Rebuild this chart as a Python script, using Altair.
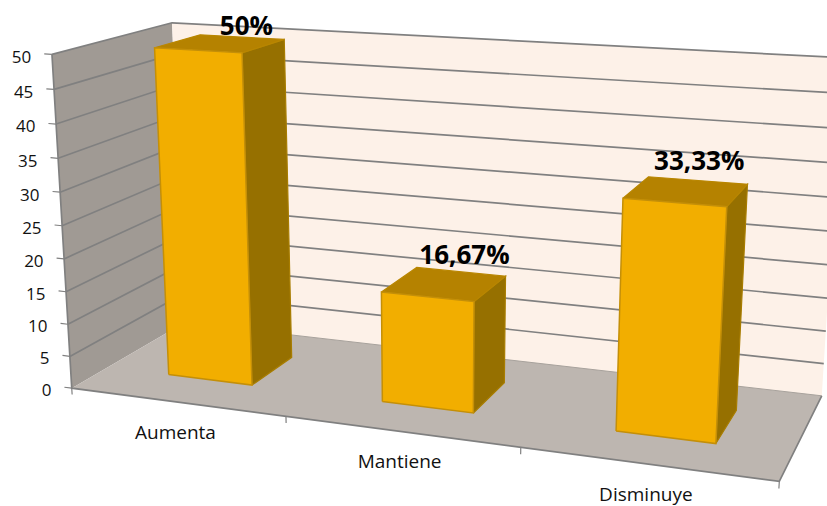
import altair as alt
import numpy as np
import pandas as pd

# Chart content
categories = ["Aumenta", "Mantiene", "Disminuye"]
values = [50, 16.67, 33.33]
value_ticks = [0, 5, 10, 15, 20, 25, 30, 35, 40, 45, 50]

W, H = 827, 506
VALUE_MAX = 50

# Perspective camera: unit box (category, value, depth) on the canvas
BOX = [(0, 0, 0), (1, 0, 0), (1, 0, 1), (0, 0, 1), (0, 1, 0), (0, 1, 1), (1, 1, 1)]
CANVAS = [(72, 388), (779, 482), (822, 395), (184, 323), (52, 54), (172, 23), (843, 58)]


def camera():
    rows, rhs = [], []
    for (x, y, z), (u, v) in zip(BOX, CANVAS):
        rows.append([x, y, z, 1, 0, 0, 0, 0, -u * x, -u * y, -u * z])
        rhs.append(u)
        rows.append([0, 0, 0, 0, x, y, z, 1, -v * x, -v * y, -v * z])
        rhs.append(v)
    p = np.linalg.lstsq(np.array(rows, float), np.array(rhs, float), rcond=None)[0]
    return np.append(p, 1).reshape(3, 4)


P = camera()


def project(x, y, z):
    h = P @ np.array([x, y, z, 1.0])
    return float(h[0] / h[2]), float(h[1] / h[2])


x_scale = alt.Scale(domain=[0, W], range=[0, W], nice=False, zero=False)
y_scale = alt.Scale(domain=[0, H], range=[0, H], nice=False, zero=False)


def path_layer(points, fill=None, stroke=None, width=1.0, closed=False):
    pts = [project(*p) for p in points]
    if closed:
        pts.append(pts[0])
    df = pd.DataFrame({"px": [p[0] for p in pts], "py": [p[1] for p in pts], "i": range(len(pts))})
    style = {"strokeWidth": width, "clip": True}
    style["stroke"] = stroke if stroke else "transparent"
    if fill:
        style["fill"] = fill
    return alt.Chart(df).mark_line(**style).encode(
        x=alt.X("px:Q", scale=x_scale, axis=None),
        y=alt.Y("py:Q", scale=y_scale, axis=None),
        order="i:Q",
    )


def text_layer(rows, **style):
    df = pd.DataFrame(rows, columns=["px", "py", "label"])
    return alt.Chart(df).mark_text(**style).encode(
        x=alt.X("px:Q", scale=x_scale, axis=None),
        y=alt.Y("py:Q", scale=y_scale, axis=None),
        text="label:N",
    )


GRID = "#808080"
layers = []

# Walls and floor
layers.append(path_layer([(0, 0, 0), (0, 0, 1), (0, 1, 1), (0, 1, 0)], fill="#a09a94", closed=True))
layers.append(path_layer([(0, 0, 1), (1, 0, 1), (1, 1, 1), (0, 1, 1)], fill="#fdf1e8", closed=True))
layers.append(path_layer([(0, 0, 0), (1, 0, 0), (1, 0, 1), (0, 0, 1)], fill="#bdb6b0", closed=True))

# Gridlines running along the side wall and the back wall
for t in value_ticks[1:]:
    y = t / VALUE_MAX
    layers.append(path_layer([(0, y, 0), (0, y, 1), (1, y, 1)], stroke=GRID, width=1.7))
layers.append(path_layer([(0, 0, 1), (1, 0, 1)], stroke="#a8a29c", width=1))

# Axis lines and tick marks
layers.append(path_layer([(0, 1, 0), (0, 0, 0), (1, 0, 0), (1, 0, 1)], stroke=GRID, width=1.7))
for t in value_ticks:
    y = t / VALUE_MAX
    layers.append(path_layer([(-0.012, y, 0), (0, y, 0)], stroke=GRID, width=1.2))
for k in range(len(categories) + 1):
    x = k / len(categories)
    layers.append(path_layer([(x, 0, 0), (x, -0.02, 0)], stroke=GRID, width=1.2))

# Bars, each one a box standing on the floor
HALF_WIDTH, Z0, Z1 = 0.0667, 0.3, 0.7
for k, v in enumerate(values):
    xc = (k + 0.5) / len(categories)
    x0, x1 = xc - HALF_WIDTH, xc + HALF_WIDTH
    y = v / VALUE_MAX
    layers.append(path_layer([(x1, 0, Z0), (x1, 0, Z1), (x1, y, Z1), (x1, y, Z0)],
                             fill="#967000", stroke="#a87d00", width=1.2, closed=True))
    layers.append(path_layer([(x0, y, Z0), (x1, y, Z0), (x1, y, Z1), (x0, y, Z1)],
                             fill="#b58200", stroke="#b98600", width=1.2, closed=True))
    layers.append(path_layer([(x0, 0, Z0), (x1, 0, Z0), (x1, y, Z0), (x0, y, Z0)],
                             fill="#f2ae00", stroke="#c48f08", width=1.5, closed=True))

# Value axis labels
tick_rows = []
for t in value_ticks:
    px, py = project(-0.012, t / VALUE_MAX, 0)
    tick_rows.append((px - 13, py + 4, str(t)))
layers.append(text_layer(tick_rows, align="right", baseline="middle", font="Open Sans",
                         fontSize=17, color="#111111"))

# Category labels under the floor
cat_rows = []
for k, name in enumerate(categories):
    px, py = project((k + 0.5) / len(categories), 0, 0)
    cat_rows.append((px - 1, py + 31, name))
layers.append(text_layer(cat_rows, align="center", baseline="middle", font="Open Sans",
                         fontSize=19, color="#111111"))

# Percentage labels above the bars
LABEL_SHIFT = [(26, -17), (20, -28), (13, -29)]
label_rows = []
for k, v in enumerate(values):
    xc = (k + 0.5) / len(categories)
    px, py = project(xc, v / VALUE_MAX, 0.5)
    dx, dy = LABEL_SHIFT[k]
    label_rows.append((px + dx, py + dy, f"{v:g}%".replace(".", ",")))
layers.append(text_layer(label_rows, align="center", baseline="middle", font="Open Sans",
                         fontSize=26, fontWeight="bold", color="#000000"))

chart = (
    alt.layer(*layers)
    .properties(width=W, height=H, padding=0, autosize=alt.AutoSizeParams(type="none"))
    .configure_view(stroke=None)
)

chart.save("out.html", embed_options={"renderer": "svg", "actions": False})
